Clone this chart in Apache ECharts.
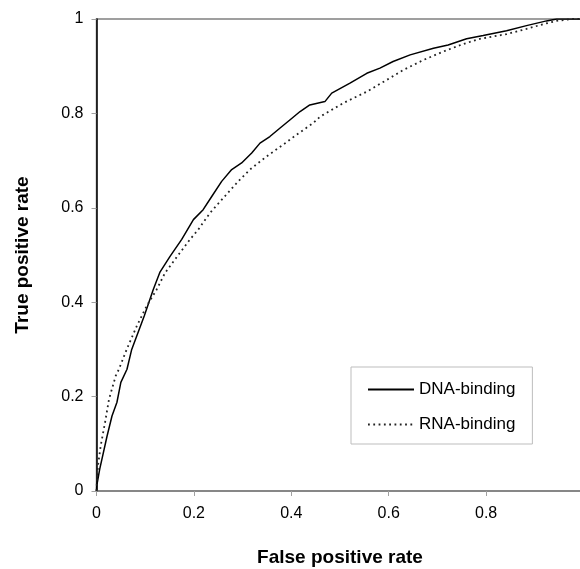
<!DOCTYPE html>
<html>
<head>
<meta charset="utf-8">
<script src="https://cdn.jsdelivr.net/npm/echarts@6/dist/echarts.min.js"></script>
<style>html,body{margin:0;padding:0;background:#fff;}#c{width:580px;height:569px;}</style>
</head>
<body>
<div id="c"></div>
<script>
var seriesNames = ['DNA-binding', 'RNA-binding'];
var xTicks = [0, 0.2, 0.4, 0.6, 0.8, 1];
var yTicks = [0, 0.2, 0.4, 0.6, 0.8, 1];
// [false positive rate, true positive rate]
var dnaFpr = [0, 0.0004, 0.0066, 0.0216, 0.0318, 0.042, 0.050, 0.0626, 0.0723, 0.098, 0.1166, 0.130, 0.151, 0.175, 0.199, 0.219, 0.2366, 0.257, 0.2776, 0.298, 0.3187, 0.3357, 0.356, 0.377, 0.397, 0.418, 0.438, 0.469, 0.483, 0.5205, 0.555, 0.582, 0.609, 0.644, 0.692, 0.722, 0.760, 0.794, 0.842, 0.883, 0.924, 0.945, 1];
var dnaTpr = [0, 0.0106, 0.0465, 0.116, 0.159, 0.188, 0.230, 0.258, 0.300, 0.371, 0.427, 0.463, 0.497, 0.533, 0.575, 0.596, 0.624, 0.656, 0.681, 0.695, 0.716, 0.737, 0.751, 0.769, 0.786, 0.804, 0.818, 0.825, 0.843, 0.864, 0.885, 0.896, 0.910, 0.924, 0.938, 0.945, 0.958, 0.965, 0.975, 0.986, 0.996, 1, 1];
var rnaFpr = [0, 0.001, 0.003, 0.0086, 0.0175, 0.0257, 0.0394, 0.046, 0.062, 0.0825, 0.103, 0.1236, 0.1407, 0.161, 0.192, 0.209, 0.233, 0.257, 0.291, 0.315, 0.3495, 0.3836, 0.411, 0.445, 0.459, 0.507, 0.555, 0.596, 0.630, 0.671, 0.712, 0.753, 0.7875, 0.842, 0.883, 0.917, 0.945, 0.978, 1];
var rnaTpr = [0, 0.03, 0.0535, 0.0958, 0.145, 0.1945, 0.2437, 0.258, 0.300, 0.349, 0.392, 0.427, 0.462, 0.4905, 0.533, 0.554, 0.589, 0.617, 0.656, 0.681, 0.709, 0.734, 0.755, 0.7795, 0.793, 0.822, 0.846, 0.871, 0.892, 0.913, 0.931, 0.947, 0.958, 0.968, 0.979, 0.989, 0.996, 1, 1];

function pairs(xs, ys) { return xs.map(function (x, i) { return [x, ys[i]]; }); }
function fmt(v) { return String(+v.toFixed(1)); }

var chart = echarts.init(document.getElementById('c'), null, { renderer: 'canvas' });
var font = 'Liberation Sans, Arial, sans-serif';
chart.setOption({
  animation: false,
  backgroundColor: '#fff',
  grid: { left: 96.5, top: 19, width: 487, height: 472, show: true, borderColor: '#808080', borderWidth: 1.5, backgroundColor: 'transparent', containLabel: false, outerBoundsMode: 'none' },
  legend: {
    data: seriesNames,
    orient: 'vertical', left: 351, top: 367,
    padding: [14, 17, 11, 16], itemGap: 18, itemWidth: 46, itemHeight: 14,
    borderColor: '#bdbdbd', borderWidth: 1, backgroundColor: '#fff',
    itemStyle: { opacity: 0 },
    textStyle: { fontFamily: font, fontSize: 17, color: '#000' }
  },
  xAxis: {
    type: 'value', min: xTicks[0], max: xTicks[xTicks.length - 1], interval: 0.2,
    name: 'False positive rate', nameLocation: 'middle', nameGap: 57,
    nameTextStyle: { fontFamily: font, fontSize: 19, fontWeight: 'bold', color: '#000' },
    axisLine: { show: true, lineStyle: { color: '#808080', width: 1.5 } },
    axisTick: { show: true, length: 5, lineStyle: { color: '#a0a0a0' } },
    axisLabel: { fontFamily: font, fontSize: 16, color: '#000', margin: 15, formatter: fmt },
    splitLine: { show: false }
  },
  yAxis: {
    type: 'value', min: yTicks[0], max: yTicks[yTicks.length - 1], interval: 0.2,
    name: 'True positive rate', nameLocation: 'middle', nameGap: 64,
    nameTextStyle: { fontFamily: font, fontSize: 19, fontWeight: 'bold', color: '#000' },
    axisLine: { show: true, lineStyle: { color: '#000', width: 1.5 } },
    axisTick: { show: true, length: 5, lineStyle: { color: '#a0a0a0' } },
    axisLabel: { fontFamily: font, fontSize: 16, color: '#000', margin: 13, formatter: fmt },
    splitLine: { show: false }
  },
  series: [
    { name: seriesNames[0], type: 'line', data: pairs(dnaFpr, dnaTpr), showSymbol: false, symbol: 'none',
      lineStyle: { color: '#000', width: 1.5 }, itemStyle: { color: '#000' } },
    { name: seriesNames[1], type: 'line', data: pairs(rnaFpr, rnaTpr), showSymbol: false, symbol: 'none',
      lineStyle: { color: '#222', width: 1.8, type: [1.8, 3.5] }, itemStyle: { color: '#222' } }
  ]
});
</script>
</body>
</html>
